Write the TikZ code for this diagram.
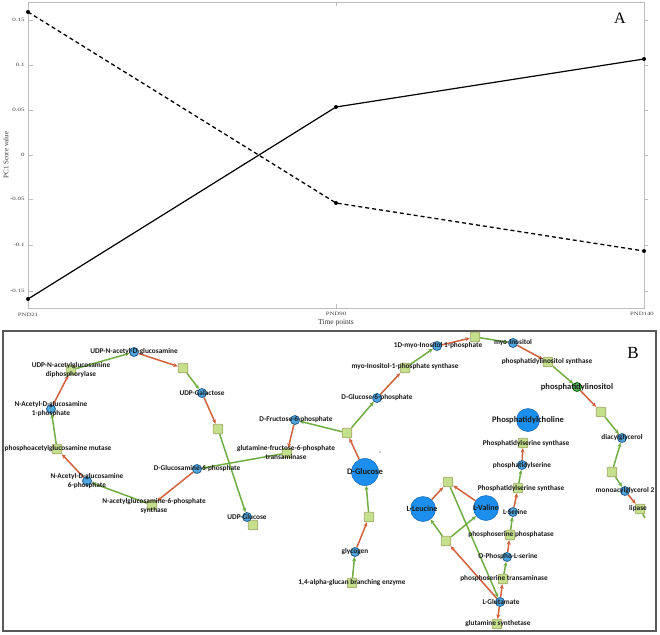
\documentclass[tikz,border=0pt]{standalone}
\usepackage{fontspec}
\setmainfont{Liberation Serif}
\newfontfamily\lblfont{Carlito}
\usetikzlibrary{arrows.meta,backgrounds}
\definecolor{grn}{HTML}{70AE45}
\definecolor{org}{HTML}{D0623E}
\definecolor{sqfill}{HTML}{C4E08C}
\definecolor{sqdraw}{HTML}{A3A866}
\definecolor{cfill}{HTML}{4FA6E0}
\definecolor{cdraw}{HTML}{24608F}
\definecolor{bigfill}{HTML}{1C8EEE}
\definecolor{bigdraw}{HTML}{1565B5}
\definecolor{pifill}{HTML}{55B060}
\definecolor{framegray}{HTML}{BDBDBD}
\begin{document}
\begin{tikzpicture}[x=1pt,y=-1pt,
  met/.style={circle,fill=cfill,draw=cdraw,line width=0.8pt,minimum size=9pt,inner sep=0pt},
  bigmet/.style={circle,fill=bigfill,draw=bigdraw,line width=0.5pt,inner sep=0pt},
  rxn/.style={rectangle,rounded corners=1pt,fill=sqfill,draw=sqdraw,line width=0.8pt,minimum size=9.5pt,inner sep=0pt},
  lbl/.style={font=\lblfont\bfseries\fontsize{7.3}{9}\selectfont,align=center,inner sep=0pt,text=black!90},
  biglbl/.style={font=\lblfont\bfseries\fontsize{8.5}{9}\selectfont,inner sep=0pt,text=black!90},
  prod/.style={draw=grn,line width=1.5pt,-{Stealth[length=4.5pt,width=4pt]}},
  subs/.style={draw=org,line width=1.5pt,-{Stealth[length=4.5pt,width=4pt]}},
  ticklbl/.style={font=\fontsize{5}{6}\selectfont,xscale=1.4,anchor=east,inner sep=0pt,text=black!75},
  axlbl/.style={font=\fontsize{5}{6}\selectfont,xscale=1.35,inner sep=0pt,text=black!75},
  serie/.style={line width=1.2pt,black},
]
\useasboundingbox (0,0) rectangle (660,634);
\begin{pgfonlayer}{background}
\fill[white] (0,0) rectangle (660,634);
\end{pgfonlayer}

%================ Panel A ================
\draw[framegray,line width=0.9pt] (28,2) rectangle (644,308);
\foreach \yy/\tl in {20/0.15,65/0.1,110/0.05,155/0,199/-0.05,245/-0.1,291/-0.15}{
  \draw[framegray,line width=0.7pt] (28,\yy) -- (33,\yy);
  \draw[framegray,line width=0.7pt] (644,\yy) -- (648,\yy);
  \node[ticklbl] at (25,\yy) {\tl};
}
\draw[framegray,line width=0.7pt] (336,2) -- (336,6);
\draw[framegray,line width=0.7pt] (336,308) -- (336,304);

\coordinate (s1) at (28,299);
\coordinate (s2) at (336,107);
\coordinate (s3) at (644,59);
\coordinate (d1) at (28,12);
\coordinate (d2) at (336,203);
\coordinate (d3) at (644,251);
\draw[serie] (s1) -- (s2) -- (s3);
\draw[serie,line width=1.3pt,dash pattern=on 4pt off 3pt] (d1) -- (d2) -- (d3);
\foreach \p in {s1,s2,s3,d1,d2,d3}{\fill[black] (\p) circle (2);}

\node[axlbl] (t21) at (28,315) {PND21};
\node[axlbl] (t90) at (336,314) {PND90};
\node[axlbl] (t140) at (642,314) {PND140};
\node[font=\fontsize{7.5}{8}\selectfont,inner sep=0pt,text=black!80] (tp) at (336,323) {Time points};
\node[font=\fontsize{7}{8}\selectfont,inner sep=0pt,rotate=90,text=black!80] (pc1) at (6,155) {PC1 Score value};
\node[font=\fontsize{16}{18}\selectfont,inner sep=0pt] (lA) at (620,18) {A};

%================ Panel B ================
\draw[black!65,line width=1.2pt] (3,331) rectangle (656,631);
\node[font=\fontsize{17}{19}\selectfont,inner sep=0pt] (lB) at (633,353) {B};
\fill[gray!60] (380,452) circle (1);

% reactions
\node[rxn] (r1) at (71,370) {};
\node[rxn] (r2) at (57,449) {};
\node[rxn] (r3) at (152,505) {};
\node[rxn] (r4) at (287,453) {};
\node[rxn] (r5) at (183,368) {};
\node[rxn] (r6) at (218,429) {};
\node[rxn] (r7) at (253,525) {};
\node[rxn] (r8) at (347,433) {};
\node[rxn] (r9) at (405,368) {};
\node[rxn] (r10) at (475,337) {};
\node[rxn] (r11) at (548,362) {};
\node[rxn] (r12) at (601,412) {};
\node[rxn] (r13) at (612,472) {};
\node[rxn] (r14) at (640,509) {};
\node[rxn] (r15) at (369,517) {};
\node[rxn] (r16) at (352,583) {};
\node[rxn] (r17) at (448,482) {};
\node[rxn] (r18) at (446,541) {};
\node[rxn] (r19) at (523,443) {};
\node[rxn] (r20) at (518,488) {};
\node[rxn] (r21) at (510,535) {};
\node[rxn] (r22) at (503,579) {};
\node[rxn] (r23) at (497,624) {};

% metabolites
\node[met] (m1) at (134,352) {};
\node[met] (m2) at (51,409) {};
\node[met] (m3) at (87,481) {};
\node[met] (m4) at (197,469) {};
\node[met] (m5) at (295,420) {};
\node[met] (m6) at (202,393) {};
\node[met] (m7) at (247,517) {};
\node[met] (m8) at (377,398) {};
\node[met] (m9) at (437,346) {};
\node[met] (m10) at (513,343) {};
\node[met,fill=pifill,draw=black!60!green] (m11) at (577,387) {};
\node[met] (m12) at (622,438) {};
\node[met] (m13) at (625,491) {};
\node[met] (m14) at (355,552) {};
\node[met] (m15) at (522,465) {};
\node[met] (m16) at (513,512) {};
\node[met] (m17) at (507,557) {};
\node[met] (m18) at (500,602) {};
\node[bigmet,minimum size=27pt] (glc) at (365,472) {};
\node[bigmet,minimum size=23pt] (pc) at (528,420) {};
\node[bigmet,minimum size=25pt] (leu) at (423,509) {};
\node[bigmet,minimum size=25pt] (val) at (486,508) {};
\coordinate (lt) at (645,518);

% edges
\begin{pgfonlayer}{background}
\draw[subs] (m1) -- (r5);
\draw[prod] (r1) -- (m1);
\draw[subs] (m2) -- (r1);
\draw[prod] (r2) -- (m2);
\draw[subs] (m3) -- (r2);
\draw[prod] (r3) -- (m3);
\draw[subs] (m4) -- (r3);
\draw[prod] (r4) -- (m4);
\draw[subs] (m5) -- (r4);
\draw[prod] (r8) -- (m5);
\draw[prod] (r8) -- (m8);
\draw[subs] (glc) -- (r8);
\draw[subs] (m8) -- (r9);
\draw[prod] (r9) -- (m9);
\draw[subs] (m9) -- (r10);
\draw[prod] (r10) -- (m10);
\draw[subs] (m10) -- (r11);
\draw[prod] (r11) -- (m11);
\draw[subs] (m11) -- (r12);
\draw[prod] (r12) -- (m12);
\draw[prod] (r13) -- (m12);
\draw[prod] (r13) -- (m13);
\draw[subs] (m13) -- (r14);
\draw[draw=grn,line width=1.5pt] (r14) -- (lt);
\draw[prod] (r5) -- (m6);
\draw[subs] (m6) -- (r6);
\draw[prod] (r6) -- (m7);
\draw[prod] (r15) -- (glc);
\draw[subs] (m14) -- (r15);
\draw[prod] (r16) -- (m14);
\draw[subs] (leu) -- (r17);
\draw[subs] (val) -- (r17);
\draw[prod] (r18) -- (leu);
\draw[prod] (r18) -- (val);
\draw[prod] (r17) -- (m18);
\draw[subs] (m18) -- (r18);
\draw[subs] (m15) -- (r19);
\draw[prod] (r20) -- (m15);
\draw[subs] (m16) -- (r20);
\draw[prod] (r21) -- (m16);
\draw[subs] (m17) -- (r21);
\draw[prod] (r22) -- (m17);
\draw[subs] (m18) -- (r22);
\draw[subs] (m18) -- (r23);
\end{pgfonlayer}

% labels
\node[lbl] (l1) at (134,352) {UDP-N-acetyl-D-glucosamine};
\node[lbl] (l2) at (51,409) {N-Acetyl-D-glucosamine\\1-phosphate};
\node[lbl] (l3) at (87,481) {N-Acetyl-D-glucosamine\\6-phosphate};
\node[lbl] (l4) at (197,469) {D-Glucosamine-6-phosphate};
\node[lbl] (l5) at (296,420) {D-Fructose-6-phosphate};
\node[lbl] (l6) at (202,393) {UDP-Galactose};
\node[lbl] (l7) at (247,517) {UDP-Glucose};
\node[lbl] (l8) at (377,398) {D-Glucose-6-phosphate};
\node[lbl] (l9) at (438,346) {1D-myo-Inositol 1-phosphate};
\node[lbl] (l10) at (513,343) {myo-Inositol};
\node[biglbl] (l11) at (577,387) {phosphatidylinositol};
\node[lbl] (l12) at (622,438) {diacylglycerol};
\node[lbl] (l13) at (625,491) {monoacylglycerol 2};
\node[lbl] (l14) at (355,552) {glycogen};
\node[lbl] (l15) at (522,465) {phosphatidylserine};
\node[lbl] (l16) at (515,512) {L-Serine};
\node[lbl] (l17) at (508,557) {O-Phospho-L-serine};
\node[lbl] (l18) at (501,602) {L-Glutamate};
\node[biglbl] (lglc) at (365,472) {D-Glucose};
\node[biglbl] (lpc) at (528,420) {Phosphatidylcholine};
\node[biglbl,font=\lblfont\bfseries\fontsize{8}{9}\selectfont] (lleu) at (422,509) {L-Leucine};
\node[biglbl,font=\lblfont\bfseries\fontsize{8}{9}\selectfont] (lval) at (486,508) {L-Valine};

\node[lbl] (lr1) at (71,370) {UDP-N-acetylglucosamine\\diphosphorylase};
\node[lbl] (lr2) at (58,449) {phosphoacetylglucosamine mutase};
\node[lbl] (lr3) at (154,506) {N-acetylglucosamine-6-phosphate\\synthase};
\node[lbl] (lr4) at (286,452) {glutamine-fructose-6-phosphate\\transaminase};
\node[lbl] (lr9) at (405,367) {myo-Inositol-1-phosphate synthase};
\node[lbl] (lr11) at (547,362) {phosphatidylinositol synthase};
\node[lbl] (lr14) at (638,509) {lipase};
\node[lbl] (lr16) at (352,583) {1,4-alpha-glucan branching enzyme};
\node[lbl] (lr19) at (526,443) {Phosphatidylserine synthase};
\node[lbl] (lr20) at (521,488) {Phosphatidylserine synthase};
\node[lbl] (lr21) at (511,535) {phosphoserine phosphatase};
\node[lbl] (lr22) at (504,579) {phosphoserine transaminase};
\node[lbl] (lr23) at (498,624) {glutamine synthetase};
\end{tikzpicture}
\end{document}
